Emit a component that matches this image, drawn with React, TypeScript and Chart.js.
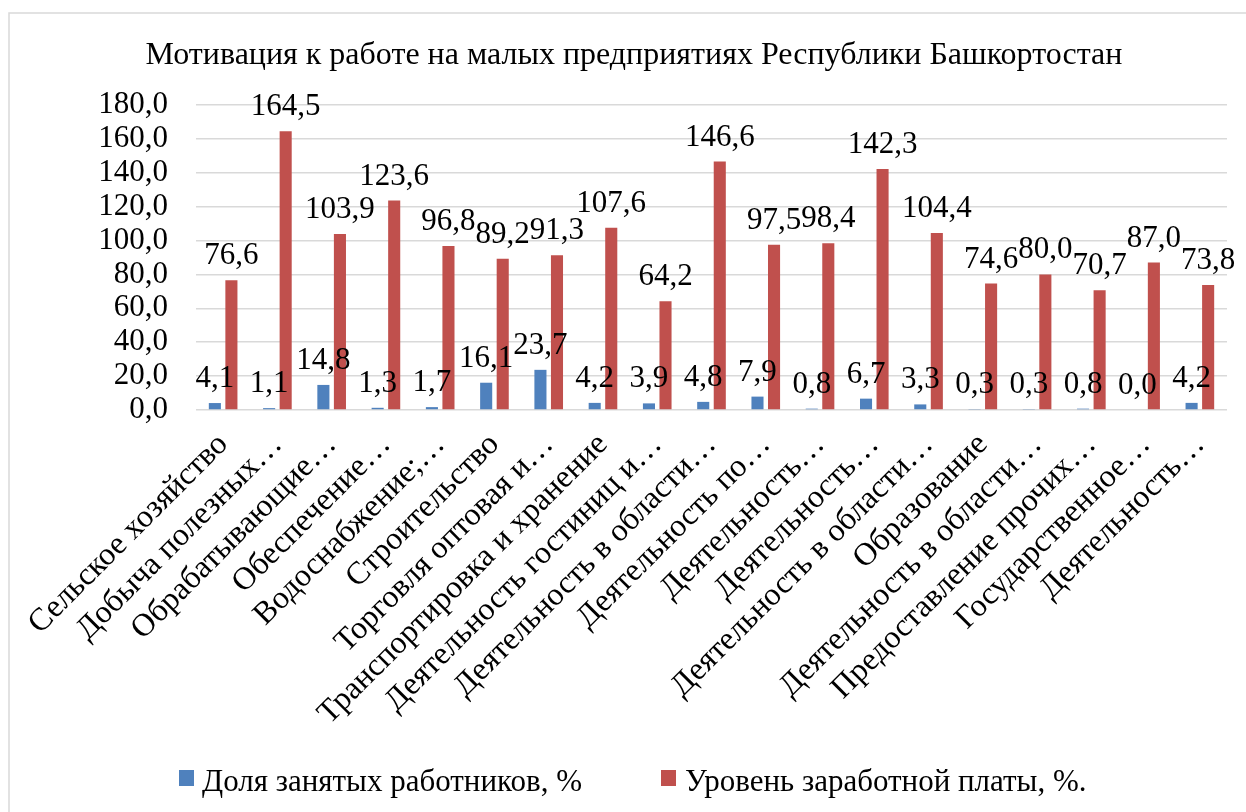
import React, { useEffect, useRef } from "react";
import { Chart, registerables } from "chart.js";

Chart.register(...registerables);

const TITLE = "Мотивация к работе на малых предприятиях Республики Башкортостан";

const categories: string[] = [
  "Сельское хозяйство",
  "Добыча полезных…",
  "Обрабатывающие…",
  "Обеспечение…",
  "Водоснабжение;…",
  "Строительство",
  "Торговля оптовая и…",
  "Транспортировка и хранение",
  "Деятельность гостиниц и…",
  "Деятельность в области…",
  "Деятельность по…",
  "Деятельность…",
  "Деятельность…",
  "Деятельность в области…",
  "Образование",
  "Деятельность в области…",
  "Предоставление прочих…",
  "Государственное…",
  "Деятельность…",
];

const seriesNames: string[] = ["Доля занятых работников, %", "Уровень заработной платы, %."];

const shareEmployed: number[] = [4.1, 1.1, 14.8, 1.3, 1.7, 16.1, 23.7, 4.2, 3.9, 4.8, 7.9, 0.8, 6.7, 3.3, 0.3, 0.3, 0.8, 0.0, 4.2];
const wageLevel: number[] = [76.6, 164.5, 103.9, 123.6, 96.8, 89.2, 91.3, 107.6, 64.2, 146.6, 97.5, 98.4, 142.3, 104.4, 74.6, 80.0, 70.7, 87.0, 73.8];

const yTicks = { min: 0, max: 180, step: 20 };

const colors = ["#4F81BD", "#C0504D"];
const FONT = "'Liberation Serif'";

const fmt = (v: number) => v.toFixed(1).replace(".", ",");

export default function App() {
  const ref = useRef<HTMLCanvasElement | null>(null);

  useEffect(() => {
    if (!ref.current) return;
    let chart: Chart | null = null;
    let cancelled = false;

    const decor = {
      id: "decor",
      beforeDraw(c: any) {
        const ctx = c.ctx;
        ctx.save();
        ctx.fillStyle = "#ffffff";
        ctx.fillRect(0, 0, c.width, c.height);
        ctx.strokeStyle = "#D9D9D9";
        ctx.lineWidth = 1.5;
        ctx.strokeRect(9, 13, 1300, 900);
        ctx.restore();
      },
      afterDraw(c: any) {
        const ctx = c.ctx;
        ctx.save();
        ctx.fillStyle = "#000";
        ctx.font = `32px ${FONT}`;
        ctx.textAlign = "center";
        ctx.textBaseline = "alphabetic";
        ctx.fillText(TITLE, 634, 64);
        ctx.font = `31px ${FONT}`;
        ctx.textAlign = "left";
        const items = [
          { box: 179, text: 202 },
          { box: 661, text: 685 },
        ];
        items.forEach((it, i) => {
          ctx.fillStyle = colors[i];
          ctx.fillRect(it.box, 770, 15, 16);
          ctx.fillStyle = "#000";
          ctx.fillText(seriesNames[i], it.text, 791);
        });
        ctx.restore();
      },
      afterDatasetsDraw(c: any) {
        const ctx = c.ctx;
        ctx.save();
        ctx.fillStyle = "#000";
        ctx.font = `31px ${FONT}`;
        ctx.textAlign = "center";
        ctx.textBaseline = "alphabetic";
        c.data.datasets.forEach((ds: any, di: number) => {
          const meta = c.getDatasetMeta(di);
          meta.data.forEach((el: any, i: number) => {
            ctx.fillText(fmt(ds.data[i]), el.x, el.y - 16);
          });
        });
        ctx.restore();
      },
    };

    const build = () => {
      if (cancelled || !ref.current) return;
      chart = new Chart(ref.current, {
        type: "bar",
        data: {
          labels: categories,
          datasets: [
            { label: seriesNames[0], data: shareEmployed, backgroundColor: colors[0], categoryPercentage: 0.61, barPercentage: 0.73 },
            { label: seriesNames[1], data: wageLevel, backgroundColor: colors[1], categoryPercentage: 0.61, barPercentage: 0.73 },
          ],
        },
        options: {
          responsive: false,
          animation: false,
          layout: { padding: { top: 105, right: 19, bottom: 0, left: 0 } },
          plugins: {
            legend: { display: false },
            title: { display: false },
            tooltip: { enabled: false },
          },
          scales: {
            x: {
              grid: { display: false },
              border: { display: false },
              ticks: {
                autoSkip: false,
                minRotation: 45,
                maxRotation: 45,
                color: "#000",
                font: { family: FONT, size: 32 },
                padding: 8,
              },
              afterFit(scale: any) {
                scale.height = 402;
              },
            },
            y: {
              min: yTicks.min,
              max: yTicks.max,
              grid: { color: "#D9D9D9", lineWidth: 1.5, drawTicks: false },
              border: { display: false },
              ticks: {
                autoSkip: false,
                stepSize: yTicks.step,
                color: "#000",
                font: { family: FONT, size: 31 },
                padding: 28,
                callback: (v: any) => fmt(Number(v)),
              },
              afterFit(scale: any) {
                scale.width = 196;
              },
            },
          },
        },
        plugins: [decor],
      });
    };

    const fonts: any = (document as any).fonts;
    if (fonts && fonts.load) {
      Promise.all([fonts.load(`31px ${FONT}`, "Мотивация 0123"), fonts.load(`32px ${FONT}`, "Мотивация")])
        .catch(() => null)
        .then(() => build());
    } else {
      build();
    }

    return () => {
      cancelled = true;
      if (chart) chart.destroy();
    };
  }, []);

  return (
    <div style={{ position: "fixed", left: 0, top: 0, width: 1246, height: 812, background: "#fff" }}>
      <canvas ref={ref} width={1246} height={812} style={{ width: 1246, height: 812, display: "block" }} />
    </div>
  );
}
